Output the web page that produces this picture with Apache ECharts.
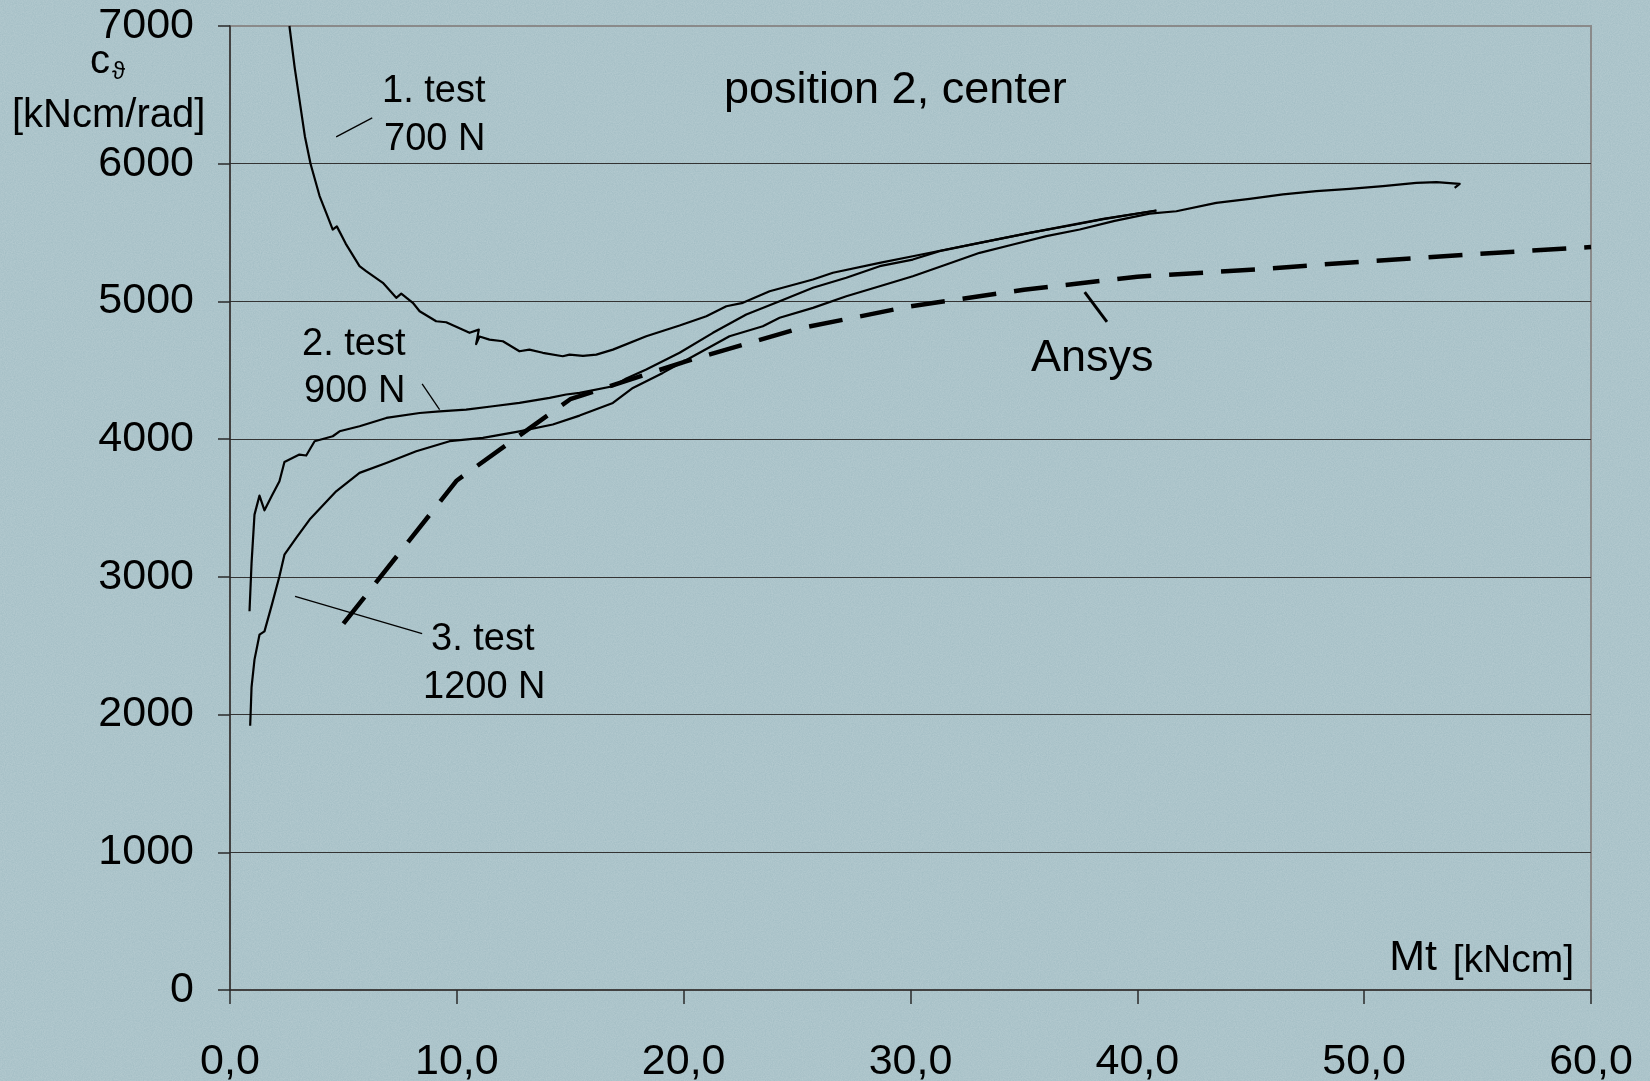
<!DOCTYPE html>
<html>
<head>
<meta charset="utf-8">
<script src="https://cdn.jsdelivr.net/npm/echarts@6/dist/echarts.min.js"></script>
<style>
html,body{margin:0;padding:0;width:1650px;height:1081px;overflow:hidden;}
body{
  background-color:#a2bdc4;
  background-image:url("data:image/svg+xml;utf8,<svg xmlns='http://www.w3.org/2000/svg' width='256' height='256'><filter id='n'><feTurbulence type='fractalNoise' baseFrequency='0.9' numOctaves='3' stitchTiles='stitch'/><feColorMatrix values='0 0 0 0 1  0 0 0 0 1  0 0 0 0 1  0 0 0 0.22 0'/></filter><rect width='100%' height='100%' filter='url(%23n)'/></svg>");
}
#chart{width:1650px;height:1081px;}
</style>
</head>
<body>
<div id="chart"></div>
<script>
// ---- data (x: Mt [kNcm], y: c [kNcm/rad]) ----
const xTicks = [0, 10, 20, 30, 40, 50, 60];
const yTicks = [0, 1000, 2000, 3000, 4000, 5000, 6000, 7000];

const test1 = [
  [2.62,7000],[2.85,6700],[3.06,6467],[3.3,6200],[3.55,6000],[3.95,5765],[4.25,5640],
  [4.53,5522],[4.71,5545],[5.1,5420],[5.71,5256],[6.0,5220],[6.74,5135],[7.33,5026],
  [7.55,5057],[8.06,4990],[8.36,4929],[9.09,4856],[9.53,4849],[10.56,4772],[10.97,4795],
  [10.85,4690],[11.0,4745],[11.44,4723],[12.03,4711],[12.76,4638],[13.2,4650],[13.79,4627],
  [14.67,4602],[14.97,4614],[15.56,4605],[16.15,4614],[16.88,4650],[18.35,4747],[19.82,4825],
  [21.0,4893],[21.88,4965],[22.61,4990],[23.79,5074],[25.7,5159],[26.58,5208],[28.64,5280],
  [30.1,5328],[31.58,5377],[33.05,5425],[35.25,5498],[37.16,5558],[38.5,5600],[40.84,5660]
];
const test2 = [
  [0.86,2750],[0.95,3100],[1.08,3452],[1.30,3590],[1.52,3483],[1.85,3590],[2.18,3694],
  [2.40,3834],[3.06,3888],[3.36,3881],[3.73,3985],[4.53,4021],[4.83,4057],[5.71,4094],
  [6.89,4154],[8.36,4190],[9.24,4202],[10.41,4215],[11.59,4239],[12.76,4263],[14.09,4300],
  [14.82,4324],[15.41,4336],[16.88,4384],[17.47,4440],[18.35,4505],[19.82,4627],[21.29,4772],
  [22.76,4905],[24.23,5001],[25.7,5099],[27.17,5172],[28.64,5256],[30.1,5304],[31.28,5365],
  [33.05,5425],[35.25,5498],[37.16,5555],[38.5,5598],[40.84,5660]
];
const test3 = [
  [0.89,1919],[0.95,2200],[1.08,2399],[1.30,2580],[1.52,2604],[1.85,2800],[2.18,3004],
  [2.40,3161],[2.92,3283],[3.51,3416],[4.68,3621],[5.71,3755],[6.89,3827],[8.21,3912],
  [9.68,3985],[11.15,4009],[12.76,4057],[14.23,4106],[15.41,4171],[16.88,4263],[17.76,4372],
  [19.08,4481],[20.56,4614],[22.02,4747],[23.49,4820],[24.23,4881],[25.7,4953],[27.17,5038],
  [28.64,5110],[30.1,5183],[31.58,5268],[33.05,5353],[34.52,5413],[35.99,5474],[37.46,5522],
  [39.0,5585],[40.54,5638],[41.72,5655],[43.48,5716],[44.95,5745],[46.42,5777],[47.89,5801],
  [49.36,5818],[50.83,5837],[52.3,5861],[53.19,5866],[54.21,5854],[53.99,5825]
];
const ansys = [
  [5,2660],[10,3700],[15,4290],[20,4560],[25,4800],[30,4965],[35,5085],[40,5180],
  [45,5230],[50,5290],[55,5345],[60,5395]
];
// leader lines of the annotations
const leader1 = [[4.68,6195],[6.27,6333]];
const leader2 = [[8.47,4401],[9.24,4215]];
const leader3 = [[2.87,2858],[8.47,2588]];
const leaderAnsys = [[37.68,5067],[38.66,4852]];

const FONT = "'Liberation Sans', Arial, 'DejaVu Sans', sans-serif";

function curve(name, data, width, type) {
  return {
    name: name, type: 'line', data: data, symbol: 'none', smooth: false,
    clip: true, animation: false,
    lineStyle: { color: '#000', width: width, type: type || 'solid', cap: 'butt', join: 'round' },
    z: 3
  };
}
function txt(s, x, y, size, align, va) {
  return { type: 'text', x: x, y: y, style: { text: s, font: size + 'px ' + FONT, fill: '#000', align: align || 'left', verticalAlign: va || 'middle' } };
}

const chart = echarts.init(document.getElementById('chart'), null, { renderer: 'canvas' });
chart.setOption({
  backgroundColor: 'transparent',
  animation: false,
  grid: {
    left: 230, right: 59, top: 26, bottom: 91, containLabel: false, outerBoundsMode: 'none',
    show: true, borderColor: '#8a8a8a', borderWidth: 2, backgroundColor: 'transparent'
  },
  xAxis: {
    type: 'value', min: 0, max: 60, interval: 10,
    axisLine: { show: true, onZero: false, lineStyle: { color: '#2a2a2a', width: 1.5 } },
    axisTick: { show: true, inside: false, length: 14, lineStyle: { color: '#2a2a2a', width: 1.5 } },
    axisLabel: {
      show: true, margin: 51, color: '#000', fontSize: 43, fontFamily: FONT,
      formatter: function (v) { return xTicks.indexOf(v) >= 0 ? v.toFixed(1).replace('.', ',') : ''; }
    },
    splitLine: { show: false }
  },
  yAxis: {
    type: 'value', min: 0, max: 7000, interval: 1000,
    axisLine: { show: true, onZero: false, lineStyle: { color: '#2a2a2a', width: 1.5 } },
    axisTick: { show: true, inside: false, length: 12, lineStyle: { color: '#2a2a2a', width: 1.5 } },
    axisLabel: {
      show: true, margin: 36, color: '#000', fontSize: 43, fontFamily: FONT, padding: [8, 0, 0, 0],
      formatter: function (v) { return yTicks.indexOf(v) >= 0 ? String(v) : ''; }
    },
    splitLine: { show: true, showMinLine: false, showMaxLine: false, lineStyle: { color: '#333', width: 1.2 } }
  },
  series: [
    curve('1. test', test1, 2.2),
    curve('2. test', test2, 2.2),
    curve('3. test', test3, 2.2),
    curve('Ansys', ansys, 4.5, [34, 18]),
    curve('leader1', leader1, 1.3),
    curve('leader2', leader2, 1.3),
    curve('leader3', leader3, 1.3),
    curve('leaderAnsys', leaderAnsys, 3)
  ],
  graphic: [
    txt('c', 90, 62, 40),
    txt('ϑ', 112, 72, 24),
    txt('[kNcm/rad]', 12, 116, 40),
    txt('position 2, center', 724, 91, 45),
    txt('1. test', 382, 92, 38),
    txt('700 N', 384, 140, 38),
    txt('2. test', 302, 345, 38),
    txt('900 N', 304, 392, 38),
    txt('3. test', 431, 640, 38),
    txt('1200 N', 423, 688, 38),
    txt('Ansys', 1031, 359, 45),
    txt('Mt', 1437, 980, 43, 'right', 'bottom'),
    txt('[kNcm]', 1574, 981, 39, 'right', 'bottom')
  ]
});
</script>
</body>
</html>
